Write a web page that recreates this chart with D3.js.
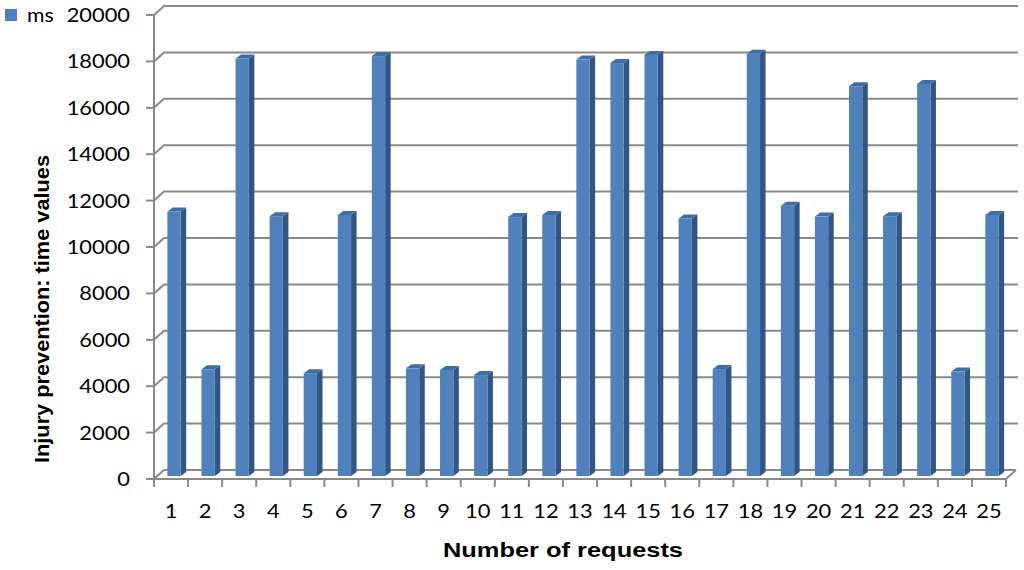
<!DOCTYPE html>
<html>
<head>
<meta charset="utf-8">
<script src="https://cdn.jsdelivr.net/npm/d3@7"></script>
<style>
  body { margin: 0; background: #fff; }
  svg { display: block; }
  text { font-family: Lato, "Open Sans", sans-serif; fill: #000; }
  .title { font-family: "Liberation Sans", Arial, sans-serif; font-weight: bold; }
</style>
</head>
<body>
<div id="chart"></div>
<script>
// Data
var categories = d3.range(1, 26).map(String);
var seriesName = "ms";
var msValues = [11400, 4600, 18000, 11200, 4430, 11250, 18100, 4640, 4570, 4350,
                11160, 11250, 17950, 17800, 18150, 11100, 4610, 18200, 11650, 11180,
                16800, 11200, 16900, 4500, 11250];
var yTicks = [0, 2000, 4000, 6000, 8000, 10000, 12000, 14000, 16000, 18000, 20000];
var yTitle = "Injury prevention: time values";
var xTitle = "Number of requests";

var W = 1024, H = 570;
var plot = { left: 154, right: 1006, bottom: 479, top: 15 };
var depth = { dx: 10, dy: -9 };   // 3D offset from front edge to back wall
var grid = "#8a8a8a";
var stretch = 1.12;               // labels in the picture are a bit wide

var svg = d3.select("#chart").append("svg")
    .attr("width", W)
    .attr("height", H);

var x = d3.scaleBand().domain(categories).range([plot.left, plot.right]).padding(0);
var y = d3.scaleLinear().domain([0, 20000]).range([plot.bottom, plot.top]);

// back wall gridlines + left wall diagonals
var g = svg.append("g").attr("fill", "none").attr("stroke", grid).attr("stroke-width", 2);

g.selectAll("path.grid")
  .data(yTicks)
  .enter().append("path")
    .attr("class", "grid")
    .attr("d", function(d) {
      var yy = y(d);
      var end = d === 0 ? plot.right + depth.dx : plot.right + depth.dx + 2;
      return "M" + plot.left + "," + yy + "L" + (plot.left + depth.dx) + "," + (yy + depth.dy) +
             "L" + end + "," + (yy + depth.dy);
    });

// floor front edge and right edge
g.append("path")
  .attr("d", "M" + plot.left + "," + plot.bottom + "L" + plot.right + "," + plot.bottom +
             "L" + (plot.right + depth.dx) + "," + (plot.bottom + depth.dy));

// vertical axis
g.append("line")
  .attr("x1", plot.left).attr("x2", plot.left)
  .attr("y1", y(20000)).attr("y2", plot.bottom);

// y tick marks
g.selectAll("line.ytick")
  .data(yTicks)
  .enter().append("line")
    .attr("class", "ytick")
    .attr("x1", plot.left - 8).attr("x2", plot.left)
    .attr("y1", function(d) { return y(d); })
    .attr("y2", function(d) { return y(d); });

// x tick marks at category boundaries
var bounds = categories.map(function(c) { return x(c); }).concat([plot.right]);
g.selectAll("line.xtick")
  .data(bounds)
  .enter().append("line")
    .attr("class", "xtick")
    .attr("x1", function(d) { return d; }).attr("x2", function(d) { return d; })
    .attr("y1", plot.bottom).attr("y2", plot.bottom + 8);

// 3D bars
var ox = 3, oy = -3;          // bar front plane sits a little behind the front edge
var sx = 5.5, sy = -4;        // visible depth of a bar (side / top faces)
var barW = x.bandwidth() * 0.39;

function fx(i) { return x(categories[i]) + x.bandwidth() / 2 - barW / 2 + ox; }

var bars = svg.append("g").selectAll("g.bar")
  .data(msValues)
  .enter().append("g")
    .attr("class", "bar");

// side face
bars.append("path")
  .attr("fill", "#2f5684")
  .attr("d", function(d, i) {
    var x1 = fx(i) + barW, yt = y(d) + oy, yb = y(0) + oy;
    return "M" + x1 + "," + yt + "L" + (x1 + sx) + "," + (yt + sy) +
           "L" + (x1 + sx) + "," + (yb + sy) + "L" + x1 + "," + yb + "Z";
  });

// top face
bars.append("path")
  .attr("fill", "#3f6da6")
  .attr("d", function(d, i) {
    var x0 = fx(i), yt = y(d) + oy;
    return "M" + x0 + "," + yt + "L" + (x0 + sx) + "," + (yt + sy) +
           "L" + (x0 + barW + sx) + "," + (yt + sy) + "L" + (x0 + barW) + "," + yt + "Z";
  });

// front face
bars.append("rect")
  .attr("fill", "#4f81bd")
  .attr("x", function(d, i) { return fx(i); })
  .attr("y", function(d) { return y(d) + oy; })
  .attr("width", barW)
  .attr("height", function(d) { return y(0) - y(d); });

// y tick labels
svg.append("g").selectAll("text")
  .data(yTicks)
  .enter().append("text")
    .attr("transform", function(d) { return "translate(130," + y(d) + ") scale(" + stretch + ",1)"; })
    .attr("dy", "0.36em")
    .attr("text-anchor", "end")
    .style("font-size", "19.5px")
    .text(function(d) { return d; });

// x tick labels
svg.append("g").selectAll("text")
  .data(categories)
  .enter().append("text")
    .attr("transform", function(d) {
      return "translate(" + (x(d) + x.bandwidth() / 2) + ",518) scale(" + stretch + ",1)";
    })
    .attr("text-anchor", "middle")
    .style("font-size", "19.5px")
    .text(function(d) { return d; });

// axis titles
svg.append("text")
  .attr("class", "title")
  .attr("transform", "translate(49,309) rotate(-90)")
  .attr("text-anchor", "middle")
  .attr("textLength", 308)
  .attr("lengthAdjust", "spacingAndGlyphs")
  .style("font-size", "19.5px")
  .text(yTitle);

svg.append("text")
  .attr("class", "title")
  .attr("x", 563)
  .attr("y", 557)
  .attr("text-anchor", "middle")
  .attr("textLength", 240)
  .attr("lengthAdjust", "spacingAndGlyphs")
  .style("font-size", "19.5px")
  .text(xTitle);

// legend
svg.append("rect")
  .attr("x", 5).attr("y", 9)
  .attr("width", 12).attr("height", 12)
  .attr("fill", "#4f81bd");
svg.append("text")
  .attr("transform", "translate(27,22) scale(" + stretch + ",1)")
  .style("font-size", "19px")
  .text(seriesName);
</script>
</body>
</html>
